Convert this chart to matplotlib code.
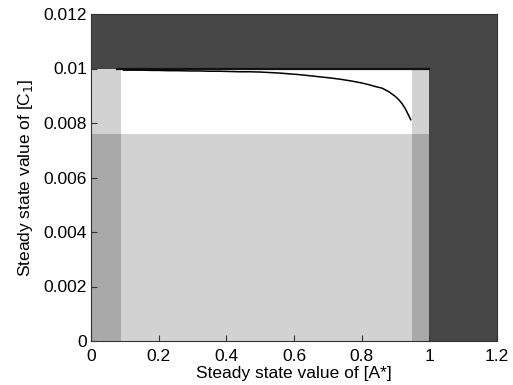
import numpy as np
import matplotlib
matplotlib.use("Agg")
import matplotlib.pyplot as plt

plt.rcParams['font.family'] = ['Liberation Sans', 'DejaVu Sans']

# feasible box and the two bands inside it
box_x = [0.0, 1.0]
box_y = [0.0, 0.01]
band_x = [0.09, 0.95]
band_y = [0.0076, 0.01]
upper_line_x = [0.078, 1.0]
upper_line_y = [0.01, 0.01]

# steady state points
A_star = [0.096, 0.12, 0.15, 0.18, 0.20, 0.23, 0.26, 0.29, 0.32, 0.35,
          0.38, 0.41, 0.44, 0.47, 0.50, 0.53, 0.56, 0.59, 0.62, 0.65,
          0.68, 0.71, 0.74, 0.77, 0.80, 0.82, 0.84, 0.86, 0.88, 0.90,
          0.91, 0.92, 0.93, 0.94, 0.945]
C1 = [0.00994, 0.00994, 0.00994, 0.00993, 0.00993, 0.00992, 0.00992, 0.00991,
      0.00991, 0.00990, 0.00990, 0.00989, 0.00988, 0.00988, 0.00987, 0.00985,
      0.00983, 0.00980, 0.00977, 0.00973, 0.00969, 0.00965, 0.00960, 0.00954,
      0.00947, 0.00941, 0.00934, 0.00928, 0.00915, 0.00897, 0.00885, 0.00870,
      0.00850, 0.00825, 0.00812]

xticks = [0, 0.2, 0.4, 0.6, 0.8, 1, 1.2]
yticks = [0, 0.002, 0.004, 0.006, 0.008, 0.01, 0.012]

dark = '#474747'
mid = '#a9a9a9'
light = '#d2d2d2'

fig = plt.figure(figsize=(5.13, 3.85), dpi=100)
ax = fig.add_axes([91/513, 44/385, 406/513, 327/385])
ax.set_facecolor(dark)

ax.fill_between(box_x, box_y[0], box_y[1], color=mid, lw=0)
ax.fill_between(band_x, box_y[0], box_y[1], color=light, lw=0)
ax.fill_between(box_x, band_y[0], band_y[1], color=light, lw=0)
ax.fill_between(band_x, band_y[0], band_y[1], color='white', lw=0)

ax.plot(upper_line_x, upper_line_y, color='#111111', lw=1.6)
ax.plot(A_star, C1, color='black', lw=1.1)

ax.set_xlim(0, 1.2)
ax.set_ylim(0, 0.012)
ax.set_xticks(xticks)
ax.set_xticklabels(['0', '0.2', '0.4', '0.6', '0.8', '1', '1.2'])
ax.set_yticks(yticks)
ax.set_yticklabels(['0', '0.002', '0.004', '0.006', '0.008', '0.01', '0.012'])
ax.tick_params(direction='in', length=4, labelsize=12.5, color='#333333', pad=3)
ax.tick_params(axis='x', pad=6)
for s in ax.spines.values():
    s.set_color('#333333')
    s.set_linewidth(0.8)

ax.set_xlabel('Steady state value of [A*]', fontsize=12.5, labelpad=1)
ax.set_ylabel('Steady state value of [C$_1$]', fontsize=12.5, labelpad=6)

fig.savefig('out.png', dpi=100)
